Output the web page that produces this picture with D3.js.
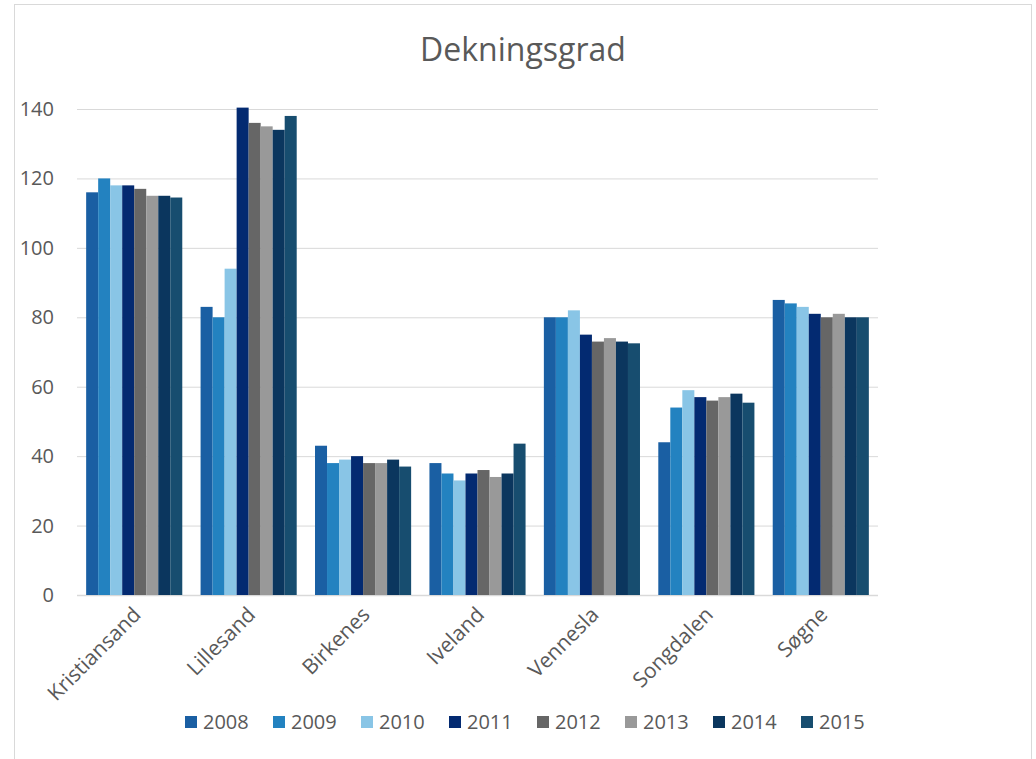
<!DOCTYPE html>
<html>
<head>
<meta charset="utf-8">
<script src="https://cdn.jsdelivr.net/npm/d3@7"></script>
<style>
  body { margin: 0; background: #fff; }
  text { font-family: 'Open Sans', sans-serif; fill: #595959; }
</style>
</head>
<body>
<div id="chart"></div>
<script>
const categories = ['Kristiansand', 'Lillesand', 'Birkenes', 'Iveland', 'Vennesla', 'Songdalen', 'Søgne'];
const years = ['2008', '2009', '2010', '2011', '2012', '2013', '2014', '2015'];
const yTicks = [0, 20, 40, 60, 80, 100, 120, 140];

// one array per year, in category order
const v2008 = [116, 83, 43, 38, 80, 44, 85];
const v2009 = [120, 80, 38, 35, 80, 54, 84];
const v2010 = [118, 94, 39, 33, 82, 59, 83];
const v2011 = [118, 140.4, 40, 35, 75, 57, 81];
const v2012 = [117, 136, 38, 36, 73, 56, 80];
const v2013 = [115, 135, 38, 34, 74, 57, 81];
const v2014 = [115, 134, 39, 35, 73, 58, 80];
const v2015 = [114.5, 138, 37, 43.6, 72.5, 55.4, 80];
const series = [v2008, v2009, v2010, v2011, v2012, v2013, v2014, v2015];

const colors = ['#1a5fa3', '#2382c0', '#89c5e6', '#032a71', '#666666', '#999999', '#0b365e', '#174d6f'];

const width = 1036, height = 759;
const margin = {top: 109, right: 158, bottom: 164, left: 77};

let svg = d3.select('#chart')
  .append('svg')
    .attr('width', width)
    .attr('height', height);

// outer chart frame
svg.append('rect')
  .attr('x', 14.5)
  .attr('y', 4.5)
  .attr('width', 1017)
  .attr('height', 800)
  .attr('fill', '#fff')
  .attr('stroke', '#d9d9d9');

// Title
svg.append('text')
  .attr('x', 523)
  .attr('y', 61)
  .attr('text-anchor', 'middle')
  .style('font-size', '32px')
  .text('Dekningsgrad');

// X scale - categories
let x = d3.scaleBand()
  .domain(categories)
  .range([margin.left, width - margin.right])
  .paddingInner(0.16)
  .paddingOuter(0.08);

// inner scale - years in each group
let x1 = d3.scaleBand()
  .domain(years)
  .range([0, x.bandwidth()]);

// Y scale
let y = d3.scaleLinear()
  .domain([0, 140])
  .range([height - margin.bottom, margin.top]);

// Gridlines
svg.append('g')
  .selectAll('line')
  .data(yTicks)
  .enter().append('line')
    .attr('x1', margin.left)
    .attr('x2', width - margin.right)
    .attr('y1', d => y(d) + 0.5)
    .attr('y2', d => y(d) + 0.5)
    .attr('stroke', '#d9d9d9')
    .attr('stroke-width', d => d === 0 ? 1.5 : 1);

// Y tick labels
svg.append('g')
  .selectAll('text')
  .data(yTicks)
  .enter().append('text')
    .attr('x', 54)
    .attr('y', d => y(d))
    .attr('dy', '0.35em')
    .attr('text-anchor', 'end')
    .style('font-size', '20px')
    .text(d => d);

// Bars
let groups = svg.append('g')
  .selectAll('g')
  .data(categories)
  .enter().append('g')
    .attr('transform', d => 'translate(' + x(d) + ',0)');

groups.selectAll('rect')
  .data((c, i) => years.map((yr, j) => ({year: yr, value: series[j][i], idx: j})))
  .enter().append('rect')
    .attr('x', d => x1(d.year))
    .attr('width', x1.bandwidth())
    .attr('y', d => y(d.value))
    .attr('height', d => y(0) - y(d.value))
    .attr('fill', d => colors[d.idx]);

// Category labels, rotated
svg.append('g')
  .selectAll('text')
  .data(categories)
  .enter().append('text')
    .attr('text-anchor', 'end')
    .attr('transform', d => 'translate(' + (x(d) + x.bandwidth() / 2 + 8) + ',' + (y(0) + 21) + ') rotate(-45)')
    .style('font-size', '21px')
    .text(d => d);

// Legend
let legend = svg.append('g')
  .selectAll('g')
  .data(years)
  .enter().append('g')
    .attr('transform', (d, i) => 'translate(' + (185 + i * 88) + ',716)');

legend.append('rect')
  .attr('width', 12)
  .attr('height', 12)
  .attr('fill', (d, i) => colors[i]);

legend.append('text')
  .attr('x', 18)
  .attr('y', 6)
  .attr('dy', '0.35em')
  .style('font-size', '20px')
  .text(d => d);
</script>
</body>
</html>
